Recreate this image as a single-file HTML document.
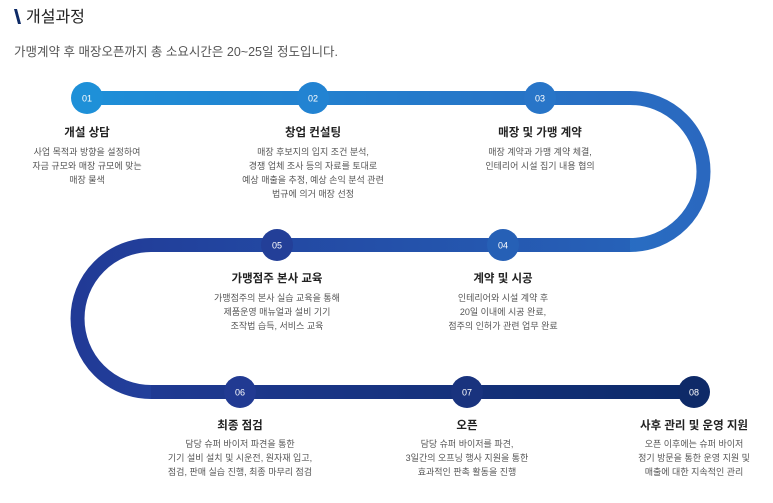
<!DOCTYPE html>
<html><head><meta charset="utf-8"><style>
html,body{margin:0;padding:0;background:#fff;width:773px;height:503px;overflow:hidden}
svg text{font-family:"Liberation Sans","Noto Sans CJK KR",sans-serif}
.t{font-size:11.5px;font-weight:bold;fill:#222;text-anchor:middle}
.b{font-size:9px;fill:#555;text-anchor:middle}
.n{font-size:9px;fill:#fff;text-anchor:middle}
</style></head><body>
<svg width="773" height="503" viewBox="0 0 773 503" xmlns="http://www.w3.org/2000/svg">
<defs>
<linearGradient id="g1" x1="87" y1="0" x2="703" y2="0" gradientUnits="userSpaceOnUse"><stop offset="0" stop-color="#1e8fd8"/><stop offset="1" stop-color="#2a68bf"/></linearGradient>
<linearGradient id="g2" x1="78" y1="0" x2="703" y2="0" gradientUnits="userSpaceOnUse"><stop offset="0" stop-color="#213a96"/><stop offset="1" stop-color="#2767bd"/></linearGradient>
<linearGradient id="g3" x1="78" y1="0" x2="700" y2="0" gradientUnits="userSpaceOnUse"><stop offset="0" stop-color="#223c98"/><stop offset="1" stop-color="#0c2a68"/></linearGradient>
</defs>
<polygon points="14,9 17,9 21,24 18,24" fill="#0d2a66"/>
<text x="26" y="22" style="font-size:16px;fill:#222">개설과정</text>
<text x="14" y="56" style="font-size:12.5px;fill:#555">가맹계약 후 매장오픈까지 총 소요시간은 20~25일 정도입니다.</text>
<path d="M87 98 H630 A73.5 73.5 0 0 1 630 245" fill="none" stroke="url(#g1)" stroke-width="14"/>
<path d="M630 245 H151 A73.5 73.5 0 0 0 151 392" fill="none" stroke="url(#g2)" stroke-width="14"/>
<path d="M151 392 H694" fill="none" stroke="url(#g3)" stroke-width="14"/>
<circle cx="87" cy="98" r="16" fill="#1e90d8"/><text class="n" x="87" y="101.5">01</text>
<circle cx="313" cy="98" r="16" fill="#2283d2"/><text class="n" x="313" y="101.5">02</text>
<circle cx="540" cy="98" r="16" fill="#2875c8"/><text class="n" x="540" y="101.5">03</text>
<circle cx="503" cy="245" r="16" fill="#2660b6"/><text class="n" x="503" y="248.5">04</text>
<circle cx="277" cy="245" r="16" fill="#233f98"/><text class="n" x="277" y="248.5">05</text>
<circle cx="240" cy="392" r="16" fill="#213a92"/><text class="n" x="240" y="395.5">06</text>
<circle cx="467" cy="392" r="16" fill="#19337e"/><text class="n" x="467" y="395.5">07</text>
<circle cx="694" cy="392" r="16" fill="#0e2a68"/><text class="n" x="694" y="395.5">08</text>

<text class="t" x="87" y="136">개설 상담</text>
<text class="b" x="87" y="155">사업 목적과 방향을 설정하여</text>
<text class="b" x="87" y="169">자금 규모와 매장 규모에 맞는</text>
<text class="b" x="87" y="183">매장 물색</text>

<text class="t" x="313" y="136">창업 컨설팅</text>
<text class="b" x="313" y="155">매장 후보지의 입지 조건 분석,</text>
<text class="b" x="313" y="169">경쟁 업체 조사 등의 자료를 토대로</text>
<text class="b" x="313" y="183">예상 매출을 추정, 예상 손익 분석 관련</text>
<text class="b" x="313" y="197">법규에 의거 매장 선정</text>

<text class="t" x="540" y="136">매장 및 가맹 계약</text>
<text class="b" x="540" y="155">매장 계약과 가맹 계약 체결,</text>
<text class="b" x="540" y="169">인테리어 시설 집기 내용 협의</text>

<text class="t" x="503" y="282">계약 및 시공</text>
<text class="b" x="503" y="301">인테리어와 시설 계약 후</text>
<text class="b" x="503" y="315">20일 이내에 시공 완료,</text>
<text class="b" x="503" y="329">점주의 인허가 관련 업무 완료</text>

<text class="t" x="277" y="282">가맹점주 본사 교육</text>
<text class="b" x="277" y="301">가맹점주의 본사 실습 교육을 통해</text>
<text class="b" x="277" y="315">제품운영 매뉴얼과 설비 기기</text>
<text class="b" x="277" y="329">조작법 습득, 서비스 교육</text>

<text class="t" x="240" y="429">최종 점검</text>
<text class="b" x="240" y="447">담당 슈퍼 바이저 파견을 통한</text>
<text class="b" x="240" y="461">기기 설비 설치 및 시운전, 원자재 입고,</text>
<text class="b" x="240" y="475">점검, 판매 실습 진행,  최종 마무리 점검</text>

<text class="t" x="467" y="429">오픈</text>
<text class="b" x="467" y="447">담당 슈퍼 바이저를 파견,</text>
<text class="b" x="467" y="461">3일간의 오프닝 행사 지원을 통한</text>
<text class="b" x="467" y="475">효과적인 판촉 활동을 진행</text>

<text class="t" x="694" y="429">사후 관리 및 운영 지원</text>
<text class="b" x="694" y="447">오픈 이후에는 슈퍼 바이저</text>
<text class="b" x="694" y="461">정기 방문을 통한 운영 지원 및</text>
<text class="b" x="694" y="475">매출에 대한 지속적인 관리</text>
</svg>
</body></html>
